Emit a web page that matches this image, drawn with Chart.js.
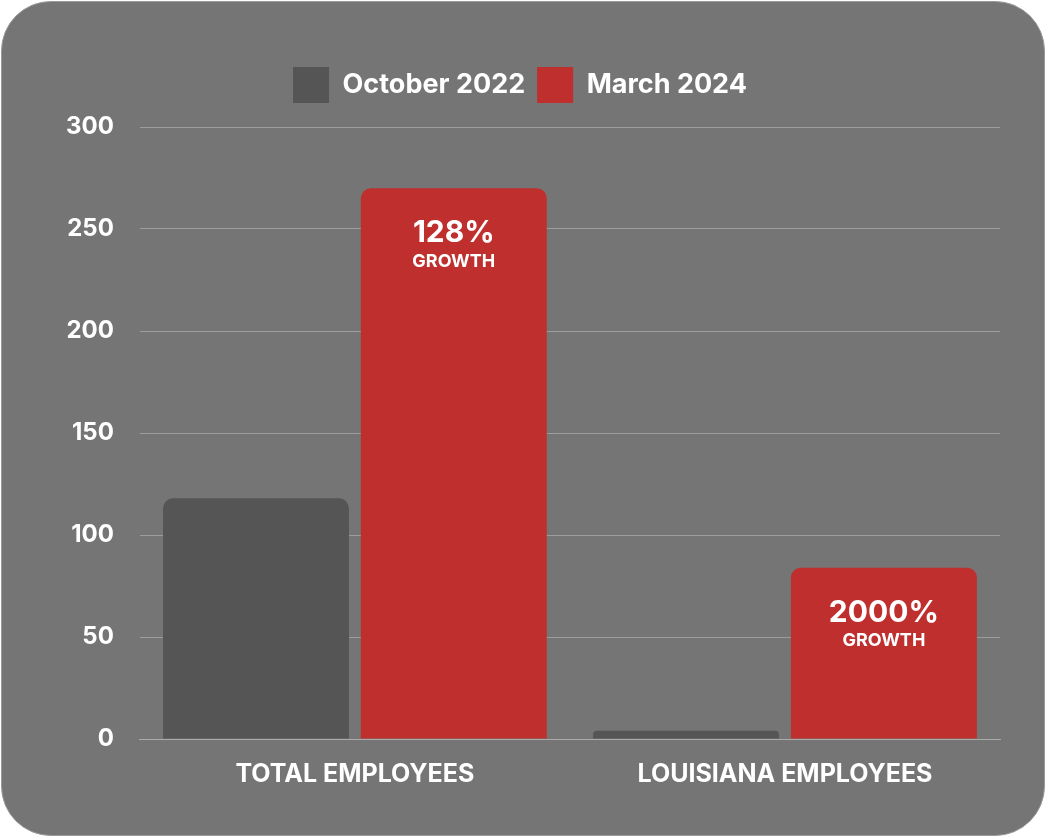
<!DOCTYPE html>
<html>
<head>
<meta charset="utf-8">
<script src="https://cdn.jsdelivr.net/npm/chart.js@4.4.0/dist/chart.umd.min.js"></script>
<style>
  html, body { margin: 0; padding: 0; background: #ffffff; }
  #card {
    position: absolute; left: 1px; top: 1px; width: 1042px; height: 833px;
    background: #757575; border-radius: 50px; border: 1px solid #9a9a9a;
  }
  #wrap { position: absolute; left: 0; top: 0; width: 1044px; height: 835px; }
</style>
</head>
<body>
<div id="card"></div>
<div id="wrap"><canvas id="growthChart"></canvas></div>
<script>
// --- Data ---
const categories = ['TOTAL EMPLOYEES', 'LOUISIANA EMPLOYEES'];
const october2022 = [118, 4];
const march2024 = [270, 84];
const growthLabels = ['128%', '2000%'];
const yTicks = [0, 50, 100, 150, 200, 250, 300];

const fontFamily = 'Inter, "Open Sans", sans-serif';

// Draws the "xx% GROWTH" text inside the red bars
const growthPlugin = {
    id: 'growthText',
    afterDatasetsDraw(chart) {
        const ctx = chart.ctx;
        const meta = chart.getDatasetMeta(1);
        ctx.save();
        ctx.fillStyle = '#ffffff';
        ctx.textAlign = 'center';
        meta.data.forEach((bar, i) => {
            ctx.font = 'bold 30px ' + fontFamily;
            ctx.fillText(growthLabels[i], bar.x, bar.y + 45);
            ctx.font = 'bold 18px ' + fontFamily;
            ctx.fillText('GROWTH', bar.x, bar.y + 73);
        });
        ctx.restore();
    }
};

// Extra space below the legend
const legendSpacer = {
    id: 'legendSpacer',
    beforeInit(chart) {
        const origFit = chart.legend.fit;
        chart.legend.fit = function () {
            origFit.bind(chart.legend)();
            this.height += 14;
        };
    }
};

const ctx = document.getElementById('growthChart').getContext('2d');
new Chart(ctx, {
    type: 'bar',
    data: {
        labels: categories,
        datasets: [
            {
                label: 'October 2022',
                data: october2022,
                backgroundColor: '#555555',
                borderRadius: { topLeft: 10, topRight: 10 },
                borderSkipped: 'bottom'
            },
            {
                label: 'March 2024',
                data: march2024,
                backgroundColor: '#bf2f2e',
                borderRadius: { topLeft: 10, topRight: 10 },
                borderSkipped: 'bottom'
            }
        ]
    },
    options: {
        responsive: true,
        maintainAspectRatio: false,
        animation: false,
        layout: { padding: { left: 40, right: 44, top: 55, bottom: 34 } },
        categoryPercentage: 0.92,
        barPercentage: 0.94,
        plugins: {
            legend: {
                labels: {
                    color: '#ffffff',
                    boxWidth: 36,
                    boxHeight: 36,
                    padding: 12,
                    font: { size: 27, weight: 'bold', family: fontFamily }
                }
            },
            tooltip: { enabled: false }
        },
        scales: {
            x: {
                grid: { display: false },
                border: { color: '#aaaaaa' },
                ticks: {
                    color: '#ffffff',
                    padding: 12,
                    font: { size: 25, weight: 'bold', family: fontFamily }
                }
            },
            y: {
                min: 0,
                max: 300,
                afterBuildTicks: axis => { axis.ticks = yTicks.map(v => ({ value: v })); },
                grid: { color: '#9c9c9c', drawTicks: false },
                border: { display: false },
                ticks: {
                    color: '#ffffff',
                    padding: 26,
                    font: { size: 24, weight: 'bold', family: fontFamily }
                }
            }
        }
    },
    plugins: [growthPlugin, legendSpacer]
});
</script>
</body>
</html>
